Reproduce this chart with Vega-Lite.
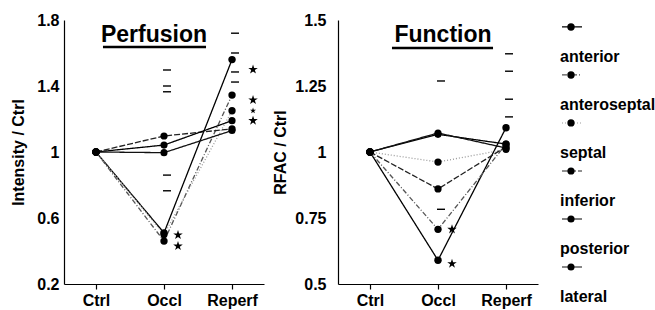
{
  "$schema": "https://vega.github.io/schema/vega-lite/v6.json",
  "padding": {"left": 10, "top": 12, "right": 0, "bottom": 0},
  "background": "white",
  "spacing": 8,
  "config": {
    "font": "Liberation Sans",
    "view": {"stroke": null},
    "axis": {
      "labelFont": "Liberation Sans", "labelFontSize": 16, "labelFontWeight": "bold", "labelColor": "black",
      "titleFont": "Liberation Sans", "titleFontSize": 16, "titleFontWeight": "bold", "titleColor": "black",
      "domainColor": "black", "domainWidth": 1.2, "tickColor": "black", "tickWidth": 1.2, "grid": false
    }
  },
  "datasets": {
    "perf": [
      {"series": "anterior", "phase": "Ctrl", "value": 1},
      {"series": "anterior", "phase": "Occl", "value": 0.51},
      {"series": "anterior", "phase": "Reperf", "value": 1.56},
      {"series": "anteroseptal", "phase": "Ctrl", "value": 1},
      {"series": "anteroseptal", "phase": "Occl", "value": 0.46},
      {"series": "anteroseptal", "phase": "Reperf", "value": 1.345},
      {"series": "septal", "phase": "Ctrl", "value": 1},
      {"series": "septal", "phase": "Occl", "value": 0.5},
      {"series": "septal", "phase": "Reperf", "value": 1.25},
      {"series": "inferior", "phase": "Ctrl", "value": 1},
      {"series": "inferior", "phase": "Occl", "value": 1.097},
      {"series": "inferior", "phase": "Reperf", "value": 1.14},
      {"series": "posterior", "phase": "Ctrl", "value": 1},
      {"series": "posterior", "phase": "Occl", "value": 1.042},
      {"series": "posterior", "phase": "Reperf", "value": 1.19},
      {"series": "lateral", "phase": "Ctrl", "value": 1},
      {"series": "lateral", "phase": "Occl", "value": 0.996},
      {"series": "lateral", "phase": "Reperf", "value": 1.13}
    ],
    "perfErr": [
      {"phase": "Occl", "value": 1.497},
      {"phase": "Occl", "value": 1.4},
      {"phase": "Occl", "value": 1.365},
      {"phase": "Occl", "value": 0.86},
      {"phase": "Occl", "value": 0.765},
      {"phase": "Reperf", "value": 1.72},
      {"phase": "Reperf", "value": 1.6},
      {"phase": "Reperf", "value": 1.485},
      {"phase": "Reperf", "value": 1.424}
    ],
    "perfStars": [
      {"series": "anterior", "phase": "Occl", "value": 0.497},
      {"series": "anteroseptal", "phase": "Occl", "value": 0.43},
      {"series": "anterior", "phase": "Reperf", "value": 1.5},
      {"series": "anteroseptal", "phase": "Reperf", "value": 1.315},
      {"series": "septal", "phase": "Reperf", "value": 1.25},
      {"series": "posterior", "phase": "Reperf", "value": 1.19}
    ],
    "func": [
      {"series": "anterior", "phase": "Ctrl", "value": 1},
      {"series": "anterior", "phase": "Occl", "value": 0.59},
      {"series": "anterior", "phase": "Reperf", "value": 1.092},
      {"series": "anteroseptal", "phase": "Ctrl", "value": 1},
      {"series": "anteroseptal", "phase": "Occl", "value": 0.707},
      {"series": "anteroseptal", "phase": "Reperf", "value": 1.03},
      {"series": "septal", "phase": "Ctrl", "value": 1},
      {"series": "septal", "phase": "Occl", "value": 0.962},
      {"series": "septal", "phase": "Reperf", "value": 1.01},
      {"series": "inferior", "phase": "Ctrl", "value": 1},
      {"series": "inferior", "phase": "Occl", "value": 0.86},
      {"series": "inferior", "phase": "Reperf", "value": 1.02},
      {"series": "posterior", "phase": "Ctrl", "value": 1},
      {"series": "posterior", "phase": "Occl", "value": 1.067},
      {"series": "posterior", "phase": "Reperf", "value": 1.03},
      {"series": "lateral", "phase": "Ctrl", "value": 1},
      {"series": "lateral", "phase": "Occl", "value": 1.072},
      {"series": "lateral", "phase": "Reperf", "value": 1.015}
    ],
    "funcErr": [
      {"phase": "Occl", "value": 1.269},
      {"phase": "Occl", "value": 0.783},
      {"phase": "Reperf", "value": 1.372},
      {"phase": "Reperf", "value": 1.306},
      {"phase": "Reperf", "value": 1.2},
      {"phase": "Reperf", "value": 1.133}
    ],
    "funcStars": [
      {"series": "anteroseptal", "phase": "Occl", "value": 0.707},
      {"series": "anterior", "phase": "Occl", "value": 0.577}
    ],
    "legend": [
      {"series": "anterior"},
      {"series": "anteroseptal"},
      {"series": "septal"},
      {"series": "inferior"},
      {"series": "posterior"},
      {"series": "lateral"}
    ]
  },
  "hconcat": [
    {
      "width": 200,
      "height": 264,
      "encoding": {
        "x": {"field": "phase", "type": "ordinal", "title": null,
          "scale": {"type": "point", "domain": ["Ctrl", "Occl", "Reperf"], "padding": 0.47},
          "axis": {"labelAngle": 0, "tickSize": 5, "labelPadding": 3}},
        "y": {"field": "value", "type": "quantitative", "title": "Intensity / Ctrl",
          "scale": {"domain": [0.2, 1.8], "nice": false, "zero": false},
          "axis": {"values": [0.2, 0.6, 1, 1.4, 1.8], "format": ".3~g", "ticks": false, "labelPadding": 5, "titlePadding": 10}}
      },
      "layer": [
        {
          "data": {"name": "perf"},
          "mark": {"type": "line", "strokeWidth": 1.3},
          "encoding": {
            "color": {"field": "series", "type": "nominal", "legend": null,
              "scale": {"domain": ["anterior", "anteroseptal", "septal", "inferior", "posterior", "lateral"],
                "range": ["#000000", "#555555", "#999999", "#222222", "#000000", "#111111"]}},
            "strokeDash": {"field": "series", "type": "nominal", "legend": null,
              "scale": {"domain": ["anterior", "anteroseptal", "septal", "inferior", "posterior", "lateral"],
                "range": [[1, 0], [5, 2, 1, 2], [1, 2], [6, 2], [1, 0], [1, 0]]}}
          }
        },
        {
          "data": {"name": "perf"},
          "mark": {"type": "point", "filled": true, "opacity": 1, "color": "black"},
          "encoding": {
            "size": {"field": "series", "type": "nominal", "legend": null,
              "scale": {"domain": ["anterior", "anteroseptal", "septal", "inferior", "posterior", "lateral"],
                "range": [55, 50, 22, 55, 55, 55]}}
          }
        },
        {
          "data": {"name": "perfErr"},
          "mark": {"type": "tick", "orient": "horizontal", "size": 8, "thickness": 1.4, "color": "black", "opacity": 1, "xOffset": 3}
        },
        {
          "data": {"name": "perfStars"},
          "transform": [{"filter": "datum.phase === 'Occl'"}],
          "mark": {"type": "point", "filled": true, "opacity": 1, "color": "black", "size": 100, "xOffset": 14,
            "shape": "M0,-1L0.2245,-0.309L0.9511,-0.309L0.3633,0.118L0.5878,0.809L0,0.382L-0.5878,0.809L-0.3633,0.118L-0.9511,-0.309L-0.2245,-0.309Z"}
        },
        {
          "data": {"name": "perfStars"},
          "transform": [{"filter": "datum.phase === 'Reperf' && datum.series !== 'septal'"}],
          "mark": {"type": "point", "filled": true, "opacity": 1, "color": "black", "size": 100, "xOffset": 21,
            "shape": "M0,-1L0.2245,-0.309L0.9511,-0.309L0.3633,0.118L0.5878,0.809L0,0.382L-0.5878,0.809L-0.3633,0.118L-0.9511,-0.309L-0.2245,-0.309Z"}
        },
        {
          "data": {"name": "perfStars"},
          "transform": [{"filter": "datum.phase === 'Reperf' && datum.series === 'septal'"}],
          "mark": {"type": "point", "filled": true, "opacity": 1, "color": "black", "size": 40, "xOffset": 21,
            "shape": "M0,-1L0.2245,-0.309L0.9511,-0.309L0.3633,0.118L0.5878,0.809L0,0.382L-0.5878,0.809L-0.3633,0.118L-0.9511,-0.309L-0.2245,-0.309Z"}
        },
        {
          "data": {"values": [{"label": "Perfusion", "phase": "Occl", "value": 1.709}]},
          "mark": {"type": "text", "fontSize": 23, "fontWeight": "bold", "color": "black", "baseline": "middle", "align": "center", "xOffset": -10},
          "encoding": {"text": {"field": "label"}}
        },
        {
          "data": {"values": [{"phase": "Ctrl", "phase2": "Reperf", "value": 1.636}]},
          "mark": {"type": "rule", "strokeWidth": 2.5, "color": "black", "xOffset": 7, "x2Offset": -26},
          "encoding": {"x2": {"field": "phase2"}}
        }
      ]
    },
    {
      "width": 200,
      "height": 264,
      "encoding": {
        "x": {"field": "phase", "type": "ordinal", "title": null,
          "scale": {"type": "point", "domain": ["Ctrl", "Occl", "Reperf"], "padding": 0.47},
          "axis": {"labelAngle": 0, "tickSize": 5, "labelPadding": 3}},
        "y": {"field": "value", "type": "quantitative", "title": "RFAC / Ctrl",
          "scale": {"domain": [0.5, 1.5], "nice": false, "zero": false},
          "axis": {"values": [0.5, 0.75, 1, 1.25, 1.5], "format": ".3~g", "ticks": false, "labelPadding": 12, "titlePadding": 6}}
      },
      "layer": [
        {
          "data": {"name": "func"},
          "mark": {"type": "line", "strokeWidth": 1.3},
          "encoding": {
            "color": {"field": "series", "type": "nominal", "legend": null,
              "scale": {"domain": ["anterior", "anteroseptal", "septal", "inferior", "posterior", "lateral"],
                "range": ["#000000", "#555555", "#999999", "#222222", "#000000", "#111111"]}},
            "strokeDash": {"field": "series", "type": "nominal", "legend": null,
              "scale": {"domain": ["anterior", "anteroseptal", "septal", "inferior", "posterior", "lateral"],
                "range": [[1, 0], [5, 2, 1, 2], [1, 2], [6, 2], [1, 0], [1, 0]]}}
          }
        },
        {
          "data": {"name": "func"},
          "mark": {"type": "point", "filled": true, "opacity": 1, "color": "black"},
          "encoding": {
            "size": {"field": "series", "type": "nominal", "legend": null,
              "scale": {"domain": ["anterior", "anteroseptal", "septal", "inferior", "posterior", "lateral"],
                "range": [55, 50, 22, 55, 55, 55]}}
          }
        },
        {
          "data": {"name": "funcErr"},
          "mark": {"type": "tick", "orient": "horizontal", "size": 8, "thickness": 1.4, "color": "black", "opacity": 1, "xOffset": 3}
        },
        {
          "data": {"name": "funcStars"},
          "mark": {"type": "point", "filled": true, "opacity": 1, "color": "black", "size": 100, "xOffset": 14,
            "shape": "M0,-1L0.2245,-0.309L0.9511,-0.309L0.3633,0.118L0.5878,0.809L0,0.382L-0.5878,0.809L-0.3633,0.118L-0.9511,-0.309L-0.2245,-0.309Z"}
        },
        {
          "data": {"values": [{"label": "Function", "phase": "Occl", "value": 1.443}]},
          "mark": {"type": "text", "fontSize": 23, "fontWeight": "bold", "color": "black", "baseline": "middle", "align": "center", "xOffset": 5},
          "encoding": {"text": {"field": "label"}}
        },
        {
          "data": {"values": [{"phase": "Ctrl", "phase2": "Reperf", "value": 1.394}]},
          "mark": {"type": "rule", "strokeWidth": 2.5, "color": "black", "xOffset": 22, "x2Offset": -13},
          "encoding": {"x2": {"field": "phase2"}}
        }
      ]
    },
    {
      "width": 95,
      "height": 290,
      "data": {"name": "legend"},
      "encoding": {
        "x": {"datum": 0, "type": "quantitative", "scale": {"domain": [0, 1]}, "axis": null},
        "y": {"field": "series", "type": "ordinal", "axis": null,
          "scale": {"type": "point", "domain": ["anterior", "anteroseptal", "septal", "inferior", "posterior", "lateral"], "padding": 0.52, "align": 0.74}}
      },
      "layer": [
        {
          "mark": {"type": "text", "align": "left", "baseline": "middle", "fontSize": 16, "fontWeight": "bold", "color": "black", "xOffset": 14},
          "encoding": {"text": {"field": "series"}}
        },
        {
          "mark": {"type": "point", "shape": "stroke", "size": 400, "strokeWidth": 1.2, "opacity": 1, "xOffset": 26, "yOffset": -30},
          "encoding": {
            "color": {"field": "series", "type": "nominal", "legend": null,
              "scale": {"domain": ["anterior", "anteroseptal", "septal", "inferior", "posterior", "lateral"],
                "range": ["#000000", "#555555", "#bbbbbb", "#222222", "#000000", "#111111"]}},
            "strokeDash": {"field": "series", "type": "nominal", "legend": null,
              "scale": {"domain": ["anterior", "anteroseptal", "septal", "inferior", "posterior", "lateral"],
                "range": [[1, 0], [2, 2], [1, 2], [3, 2], [1, 0], [1, 0]]}}
          }
        },
        {
          "mark": {"type": "point", "filled": true, "opacity": 1, "color": "black", "xOffset": 25, "yOffset": -30},
          "encoding": {
            "size": {"field": "series", "type": "nominal", "legend": null,
              "scale": {"domain": ["anterior", "anteroseptal", "septal", "inferior", "posterior", "lateral"],
                "range": [40, 35, 6, 40, 40, 40]}}
          }
        }
      ]
    }
  ]
}
